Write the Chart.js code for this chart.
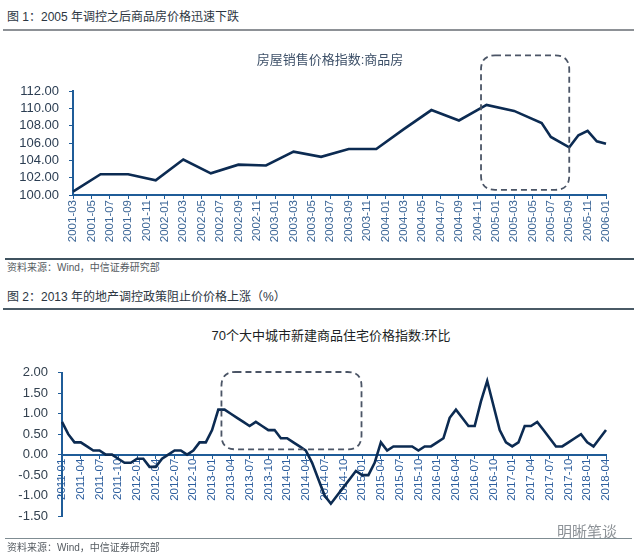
<!DOCTYPE html>
<html>
<head>
<meta charset="utf-8">
<script src="https://cdn.jsdelivr.net/npm/chart.js@4.4.1/dist/chart.umd.min.js"></script>
<style>
  html, body { margin:0; padding:0; background:#ffffff; }
  body { width:637px; height:554px; position:relative; overflow:hidden;
         font-family:"Liberation Sans","Noto Sans CJK SC",sans-serif; }
  canvas { position:absolute; left:0; }
  .t { position:absolute; white-space:nowrap; line-height:1; }
  .rule { position:absolute; }
</style>
</head>
<body>
<canvas id="c1" width="637" height="215" style="top:45px"></canvas>
<canvas id="c2" width="637" height="180" style="top:355px"></canvas>

<div class="t" style="left:7px;top:11px;font-size:12px;color:#2c3642;">图 1：2005 年调控之后商品房价格迅速下跌</div>
<div class="rule" style="left:3px;top:29px;width:631px;height:2px;background:#8d9196;"></div>
<div class="t" style="left:0;width:660px;text-align:center;top:53px;font-size:13px;color:#3d5068;">房屋销售价格指数:商品房</div>
<div class="rule" style="left:5px;top:258px;width:629px;height:2px;background:#3f525f;"></div>
<div class="t" style="left:7px;top:263px;font-size:10px;color:#555b61;">资料来源：Wind，中信证券研究部</div>
<div class="t" style="left:7px;top:291px;font-size:12px;color:#2c3642;">图 2：2013 年的地产调控政策阻止价价格上涨（%）</div>
<div class="rule" style="left:3px;top:308px;width:631px;height:2px;background:#4a5a66;"></div>
<div class="t" style="left:0;width:662px;text-align:center;top:329px;font-size:13px;color:#1c1f24;">70个大中城市新建商品住宅价格指数:环比</div>
<div class="t" style="left:557px;top:524px;font-size:15px;color:#8e9398;">明晰笔谈</div>
<div class="rule" style="left:5px;top:538px;width:627px;height:1px;background:#7f8c92;"></div>
<div class="t" style="left:7px;top:543px;font-size:10px;color:#555b61;">资料来源：Wind，中信证券研究部</div>

<script>
// ---------- helpers ----------
function monthRange(start, end) {
  const out = [];
  let [y, m] = start.split('-').map(Number);
  const [ey, em] = end.split('-').map(Number);
  while (y < ey || (y === ey && m <= em)) {
    out.push(y + '-' + String(m).padStart(2, '0'));
    m++; if (m > 12) { m = 1; y++; }
  }
  return out;
}

// ---------- chart 1 data ----------
const categories1 = monthRange('2001-03', '2006-01');
const pointDates1 = ['2001-03','2001-06','2001-09','2001-12','2002-03','2002-06','2002-09','2002-12',
                     '2003-03','2003-06','2003-09','2003-12','2004-03','2004-06','2004-09','2004-12',
                     '2005-03','2005-06','2005-07','2005-09','2005-10','2005-11','2005-12','2006-01'];
const values1 = [100.4,102.4,102.4,101.7,104.1,102.5,103.5,103.4,
                 105.0,104.4,105.3,105.3,107.6,109.8,108.6,110.4,
                 109.7,108.3,106.7,105.5,106.9,107.4,106.2,105.9];
const yTicks1 = [100, 102, 104, 106, 108, 110, 112];
const box1X = [44.4, 54.0];
const box1Y = [100.6, 116.1];

// ---------- chart 2 data ----------
const categories2 = monthRange('2011-01', '2018-04');
const values2 = [0.8,0.5,0.3,0.3,0.2,0.1,0.1,0.0,0.0,-0.1,
                 -0.2,-0.2,-0.1,-0.1,-0.3,-0.3,-0.1,0.0,0.1,0.1,
                 0.0,0.1,0.3,0.3,0.6,1.1,1.1,1.0,0.9,0.8,
                 0.7,0.8,0.7,0.6,0.6,0.4,0.4,0.3,0.2,0.1,
                 -0.2,-0.6,-1.0,-1.2,-1.0,-0.8,-0.6,-0.4,-0.5,-0.5,
                 -0.2,0.3,0.1,0.2,0.2,0.2,0.2,0.1,0.2,0.2,
                 0.3,0.4,0.9,1.1,0.9,0.7,0.7,1.3,1.8,1.2,
                 0.6,0.3,0.2,0.3,0.7,0.7,0.8,0.6,0.4,0.2,
                 0.2,0.3,0.4,0.5,0.3,0.2,0.4,0.6];
const yTicks2 = [-1.5, -1.0, -0.5, 0, 0.5, 1.0, 1.5, 2.0];
const box2X = [25.5, 47.9];
const box2Y = [0.13, 2.02];

// ---------- styles ----------
const LINE = '#0c2b52';
const AXIS = '#1f5c98';
const BOXC = '#4b5566';

const dashBox = {
  id: 'dashBox',
  afterDatasetsDraw(chart, args, o) {
    if (!o || o.x0 === undefined) return;
    const {ctx, scales: {x, y}} = chart;
    const l = x.getPixelForValue(o.x0), r = x.getPixelForValue(o.x1);
    const t = y.getPixelForValue(o.y1), b = y.getPixelForValue(o.y0);
    const rad = 14;
    ctx.save();
    ctx.setLineDash([6, 4]);
    ctx.lineWidth = 1.8;
    ctx.strokeStyle = BOXC;
    ctx.beginPath();
    ctx.moveTo(l + rad, t);
    ctx.lineTo(r - rad, t);
    ctx.quadraticCurveTo(r, t, r, t + rad);
    ctx.lineTo(r, b - rad);
    ctx.quadraticCurveTo(r, b, r - rad, b);
    ctx.lineTo(l + rad, b);
    ctx.quadraticCurveTo(l, b, l, b - rad);
    ctx.lineTo(l, t + rad);
    ctx.quadraticCurveTo(l, t, l + rad, t);
    ctx.closePath();
    ctx.stroke();
    ctx.restore();
  }
};

const common = {
  responsive: false,
  animation: false,
  devicePixelRatio: 1,
  events: [],
};

// ---------- chart 1 ----------
new Chart(document.getElementById('c1'), {
  type: 'line',
  data: {
    labels: categories1,
    datasets: [{
      data: pointDates1.map((d, i) => ({x: d, y: values1[i]})),
      borderColor: LINE, borderWidth: 2.6, pointRadius: 0, tension: 0, fill: false
    }]
  },
  plugins: [dashBox],
  options: Object.assign({}, common, {
    layout: {padding: {top: 46, right: 31, left: 0, bottom: 0}},
    plugins: {
      legend: {display: false}, tooltip: {enabled: false},
      dashBox: {x0: box1X[0], x1: box1X[1], y0: box1Y[0], y1: box1Y[1]}
    },
    scales: {
      x: {
        type: 'category', offset: false,
        grid: {drawOnChartArea: false, drawTicks: true, tickLength: 4, color: AXIS, lineWidth: 1},
        border: {display: true, color: AXIS, width: 2},
        ticks: {autoSkip: false, minRotation: 90, maxRotation: 90, padding: 1,
                color: '#3d6797', font: {family: 'Liberation Sans', size: 11.5}},
        afterBuildTicks: s => { s.ticks = s.ticks.filter(t => t.value % 2 === 0); },
        afterFit: s => { s.height = 65; }
      },
      y: {
        min: yTicks1[0], max: yTicks1[yTicks1.length - 1],
        afterBuildTicks: s => { s.ticks = yTicks1.map(v => ({value: v})); },
        grid: {drawOnChartArea: false, tickLength: 4, color: AXIS},
        border: {display: true, color: AXIS, width: 2},
        ticks: {autoSkip: false, padding: 10, color: '#2b3d52', font: {family: 'Liberation Sans', size: 13},
                callback: v => Number(v).toFixed(2)},
        afterFit: s => { s.width = 73; }
      }
    }
  })
});

// ---------- chart 2 ----------
new Chart(document.getElementById('c2'), {
  type: 'line',
  data: {
    labels: categories2,
    datasets: [{
      data: values2,
      borderColor: LINE, borderWidth: 2.6, pointRadius: 0, tension: 0, fill: false
    }]
  },
  plugins: [dashBox],
  options: Object.assign({}, common, {
    layout: {padding: {top: 15, right: 31, left: 0, bottom: 19}},
    plugins: {
      legend: {display: false}, tooltip: {enabled: false},
      dashBox: {x0: box2X[0], x1: box2X[1], y0: box2Y[0], y1: box2Y[1]}
    },
    scales: {
      x: {
        type: 'category', offset: false, position: {y: 0},
        grid: {drawOnChartArea: false, drawTicks: true, tickLength: 3, color: AXIS, lineWidth: 1},
        border: {display: true, color: AXIS, width: 2},
        ticks: {autoSkip: false, minRotation: 90, maxRotation: 90, padding: 1,
                color: '#2e5f9e', font: {family: 'Liberation Sans', size: 11.5}},
        afterBuildTicks: s => { s.ticks = s.ticks.filter(t => t.value % 3 === 0); }
      },
      y: {
        min: yTicks2[0], max: yTicks2[yTicks2.length - 1],
        afterBuildTicks: s => { s.ticks = yTicks2.map(v => ({value: v})); },
        grid: {drawOnChartArea: false, tickLength: 4, color: AXIS},
        border: {display: true, color: AXIS, width: 2},
        ticks: {autoSkip: false, padding: 10, color: '#33414f', font: {family: 'Liberation Sans', size: 13},
                callback: v => Number(v).toFixed(2)},
        afterFit: s => { s.width = 62; }
      }
    }
  })
});
</script>
</body>
</html>
